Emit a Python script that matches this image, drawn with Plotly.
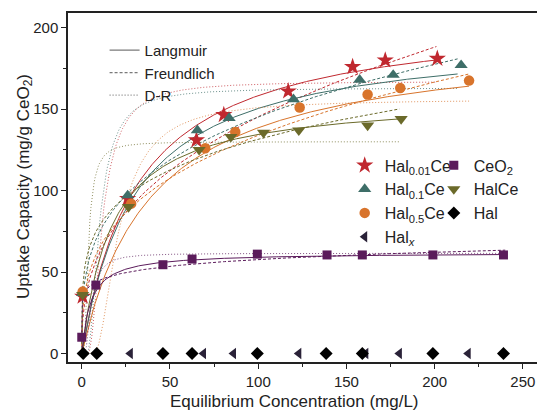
import numpy as np
import plotly.graph_objects as go

C_h001 = [0.5, 26, 65, 80.5, 117, 153.5, 172, 201.5]
Q_h001 = [35, 95, 131, 146.5, 161, 176, 180, 181]

C_h01 = [0.5, 26, 65.5, 83.5, 120, 157.5, 176.5, 215]
Q_h01 = [37, 97, 137, 144.5, 156, 168, 171, 177]

C_h05 = [0.5, 28, 70, 87, 123.5, 162, 180.5, 219.5]
Q_h05 = [38, 92, 126, 136, 151, 159, 163, 167.5]

C_halce = [0.5, 26.5, 66.5, 84.5, 103, 123, 162, 181]
Q_halce = [36, 90, 125, 133, 135.5, 137, 140, 144]

C_ceo2 = [0, 8, 46, 62.5, 99.5, 139, 159, 199, 239]
Q_ceo2 = [10, 42, 54.5, 58, 61, 60.5, 60.5, 60.5, 60.5]

C_hal = [0.8, 8.5, 46, 62.5, 99.5, 138.5, 159, 199, 239]
Q_hal = [0, 0, 0, 0, 0, 0, 0, 0, 0]

C_halx = [0, 27.5, 69, 86, 123, 161, 180, 219]
Q_halx = [0, 0, 0, 0, 0, 0, 0, 0]

# ---------------- fitted model parameters ----------------
fit_names = ["Hal0.01Ce", "Hal0.1Ce", "Hal0.5Ce", "HalCe", "CeO2"]
fit_colors = ["#c0282f", "#3e6e68", "#d8742c", "#6b6a2a", "#5b1b5b"]
fit_cmax = [201, 213, 219.5, 180, 240]
lang_qm = [208.7, 196, 194, 157.8, 62]
lang_K = [0.0314, 0.033, 0.025, 0.0578, 0.203]
freu_Kf = [26.2, 38.2, 31.4, 46.9, 35.1]
freu_inv_n = [0.372, 0.29, 0.315, 0.224, 0.108]
dr_qm = [167, 163, 156, 130, 61.5]
dr_B = [106, 80, 336, 12, 25]

FONT = "Liberation Sans, Arial, sans-serif"

fig = go.Figure()

# fitted curves
for i, name in enumerate(fit_names):
    col = fit_colors[i]
    c = np.unique(np.concatenate([np.geomspace(1e-4, 1, 60), np.linspace(1, fit_cmax[i], 300)]))
    lang = lang_qm[i] * lang_K[i] * c / (1 + lang_K[i] * c)
    freu = freu_Kf[i] * c ** freu_inv_n[i]
    dr = dr_qm[i] * np.exp(-dr_B[i] * np.log(1 + 1 / c) ** 2)
    fig.add_trace(go.Scatter(x=np.concatenate([[0], c]), y=np.concatenate([[0], lang]), mode="lines",
                             line=dict(color=col, width=1), showlegend=False, hoverinfo="skip"))
    fig.add_trace(go.Scatter(x=c, y=freu, mode="lines",
                             line=dict(color=col, width=1, dash="3px,2px"), showlegend=False, hoverinfo="skip"))
    fig.add_trace(go.Scatter(x=c, y=dr, mode="lines", opacity=0.75,
                             line=dict(color=col, width=1, dash="1px,2px"), showlegend=False, hoverinfo="skip"))

# line-style legend entries
for lbl, dsh in [("Langmuir", "solid"), ("Freundlich", "3px,2px"), ("D-R", "1px,2px")]:
    fig.add_trace(go.Scatter(x=[None], y=[None], mode="lines", name=lbl,
                             line=dict(color="#7a7a7a", width=1.2, dash=dsh), legend="legend"))

# scatter markers
def pts(x, y, name, sym, color, size, leg):
    fig.add_trace(go.Scatter(x=x, y=y, mode="markers", name=name, legend=leg,
                             marker=dict(symbol=sym, color=color, size=size, line=dict(width=0))))

pts(C_h001, Q_h001, "Hal<sub>0.01</sub>Ce", "star", "#c0282f", 13, "legend2")
pts(C_h01, Q_h01, "Hal<sub>0.1</sub>Ce", "triangle-up", "#3e6e68", 11.5, "legend2")
pts(C_h05, Q_h05, "Hal<sub>0.5</sub>Ce", "circle", "#d8742c", 10.5, "legend2")
pts(C_halx, Q_halx, "Hal<sub><i>x</i></sub>", "triangle-left", "#2a2238", 10, "legend2")
pts(C_ceo2, Q_ceo2, "CeO<sub>2</sub>", "square", "#5b1b5b", 9, "legend3")
pts(C_halce, Q_halce, "HalCe", "triangle-down", "#6b6a2a", 11.5, "legend3")
pts(C_hal, Q_hal, "Hal", "diamond", "#000000", 10, "legend3")

axis_common = dict(showgrid=False, zeroline=False, showline=True, linecolor="#222", linewidth=1.5,
                   ticks="outside", ticklen=5, tickwidth=1.2, tickcolor="#222",
                   tickfont=dict(family=FONT, size=15, color="#222"))

fig.update_layout(
    width=537, height=414,
    margin=dict(l=68, r=0, t=13, b=52),
    paper_bgcolor="white", plot_bgcolor="white",
    font=dict(family=FONT, color="#222"),
    xaxis=dict(range=[-7.8, 258], tickvals=[0, 50, 100, 150, 200, 250], mirror=True,
               minor=dict(ticks="outside", ticklen=3, tickcolor="#222", dtick=25, tick0=0),
               **axis_common),
    yaxis=dict(range=[-5.2, 209], tickvals=[0, 50, 100, 150, 200], mirror=False,
               minor=dict(ticks="outside", ticklen=3, tickcolor="#222", dtick=25, tick0=0),
               **axis_common),
    legend=dict(x=0.078, y=0.94, xanchor="left", yanchor="top", bgcolor="rgba(0,0,0,0)",
                font=dict(family=FONT, size=15, color="#222"), itemwidth=30),
    legend2=dict(x=0.59, y=0.612, xanchor="left", yanchor="top", bgcolor="rgba(0,0,0,0)",
                 font=dict(family=FONT, size=16, color="#222"), itemwidth=30),
    legend3=dict(x=0.78, y=0.612, xanchor="left", yanchor="top", bgcolor="rgba(0,0,0,0)",
                 font=dict(family=FONT, size=16, color="#222"), itemwidth=30),
    annotations=[
        dict(text="Equilibrium Concentration (mg/L)", xref="paper", yref="paper",
             x=0.482, y=-0.113, xanchor="center", yanchor="middle", showarrow=False,
             font=dict(family=FONT, size=17, color="#222")),
        dict(text="Uptake Capacity (mg/g CeO<sub>2</sub>)", xref="paper", yref="paper",
             x=-0.092, y=0.504, xanchor="center", yanchor="middle", showarrow=False, textangle=-90,
             font=dict(family=FONT, size=17, color="#222")),
    ],
)

fig.write_html("out.html")
